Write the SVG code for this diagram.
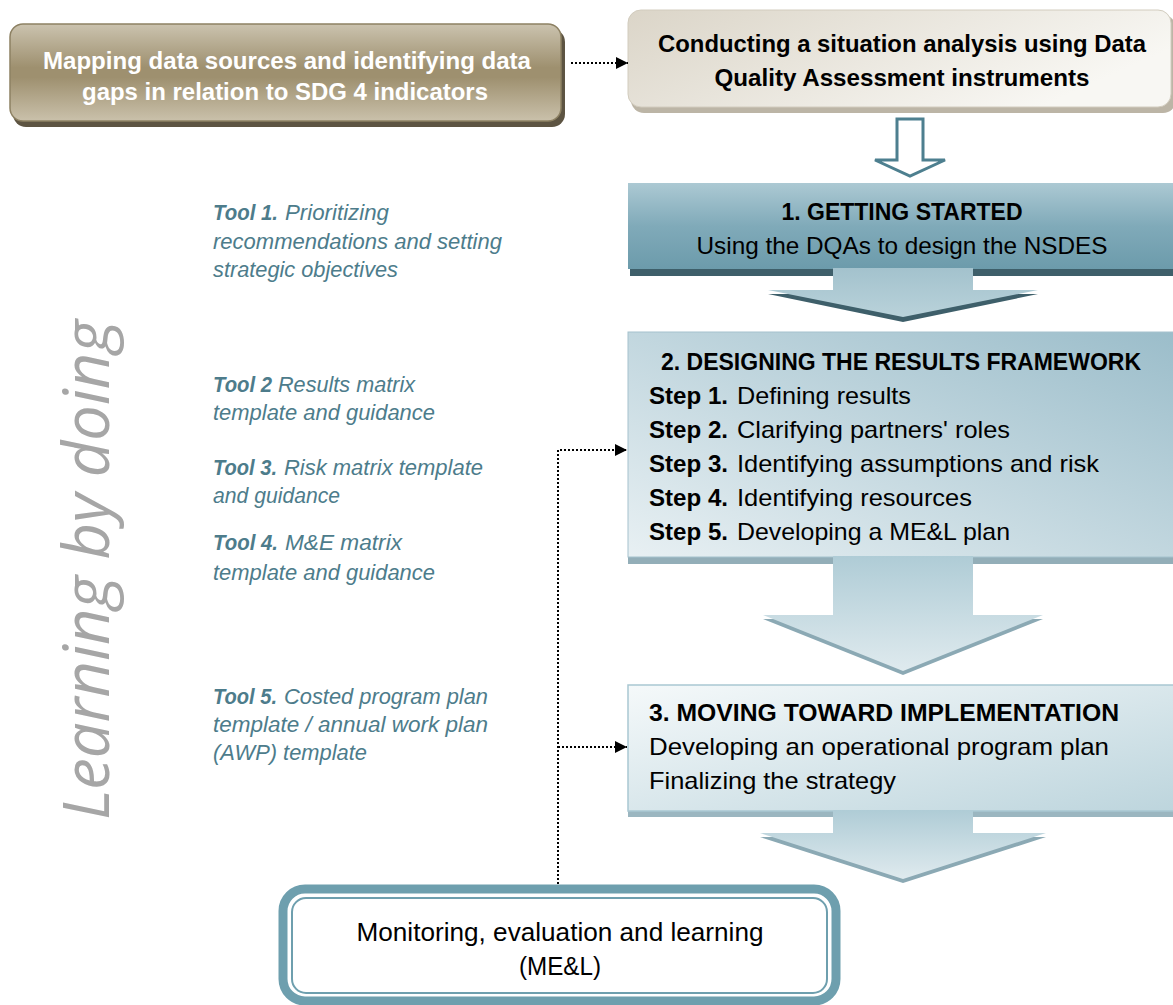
<svg xmlns="http://www.w3.org/2000/svg" width="1173" height="1005" viewBox="0 0 1173 1005">
<defs>
  <linearGradient id="tan" x1="0" y1="0" x2="0" y2="1">
    <stop offset="0" stop-color="#cbc3af"/>
    <stop offset="0.45" stop-color="#9e906f"/>
    <stop offset="0.55" stop-color="#9e906f"/>
    <stop offset="1" stop-color="#cac1ab"/>
  </linearGradient>
  <linearGradient id="beige" x1="0" y1="0" x2="1" y2="0.4">
    <stop offset="0" stop-color="#dbd5c8"/>
    <stop offset="1" stop-color="#f8f7f3"/>
  </linearGradient>
  <linearGradient id="teal1" x1="0" y1="0" x2="0" y2="1">
    <stop offset="0" stop-color="#acc9d3"/>
    <stop offset="0.5" stop-color="#80aab9"/>
    <stop offset="1" stop-color="#6c9bab"/>
  </linearGradient>
  <linearGradient id="teal2" x1="1" y1="0" x2="0" y2="1">
    <stop offset="0" stop-color="#9bbdca"/>
    <stop offset="1" stop-color="#e8f0f3"/>
  </linearGradient>
  <linearGradient id="teal3" x1="0" y1="0" x2="1" y2="1">
    <stop offset="0" stop-color="#f5f9fa"/>
    <stop offset="1" stop-color="#bdd5dd"/>
  </linearGradient>
  <linearGradient id="arrowA" x1="0" y1="0" x2="0" y2="1">
    <stop offset="0" stop-color="#a3c2cd"/>
    <stop offset="1" stop-color="#b9d2da"/>
  </linearGradient>
  <linearGradient id="arrowB" x1="0" y1="0" x2="0" y2="1">
    <stop offset="0" stop-color="#afccd6"/>
    <stop offset="1" stop-color="#dfeaee"/>
  </linearGradient>
  <marker id="ah" markerWidth="12" markerHeight="12" refX="12" refY="6" orient="auto" markerUnits="userSpaceOnUse">
    <path d="M0,0 L12,6 L0,12 Z" fill="#000"/>
  </marker>
  <style>
    .b { font-family: "Liberation Sans", Arial, sans-serif; font-weight: bold; font-size: 24px; }
    .r { font-family: "Liberation Sans", Arial, sans-serif; font-size: 24px; }
    .tb { font-family: "Liberation Sans", Arial, sans-serif; font-weight: bold; font-style: italic; font-size: 22px; fill: #4d7c8b; }
    .ti { font-family: "Liberation Sans", Arial, sans-serif; font-style: italic; font-size: 22px; fill: #4d7c8b; }
    .dot { fill: none; stroke: #000; stroke-width: 2; stroke-dasharray: 2 2; }
  </style>
</defs>

<rect width="1173" height="1005" fill="#ffffff"/>

<!-- Learning by doing -->
<text transform="translate(109,570) rotate(-90)" x="0" y="0" text-anchor="middle" textLength="500" lengthAdjust="spacingAndGlyphs" style="font-family:'Open Sans','Liberation Sans',sans-serif;font-style:italic;font-weight:400;font-size:64px;fill:#a6a6a6">Learning by doing</text>

<!-- Tools -->
<g id="tools">
  <text class="tb" x="213" y="220" textLength="65" lengthAdjust="spacingAndGlyphs">Tool 1.</text>
  <text class="ti" x="285" y="220" textLength="104" lengthAdjust="spacingAndGlyphs">Prioritizing</text>
  <text class="ti" x="213" y="249" textLength="289" lengthAdjust="spacingAndGlyphs">recommendations and setting</text>
  <text class="ti" x="213" y="277" textLength="185" lengthAdjust="spacingAndGlyphs">strategic objectives</text>

  <text class="tb" x="213" y="392" textLength="59" lengthAdjust="spacingAndGlyphs">Tool 2</text>
  <text class="ti" x="278" y="392" textLength="137" lengthAdjust="spacingAndGlyphs">Results matrix</text>
  <text class="ti" x="213" y="420" textLength="222" lengthAdjust="spacingAndGlyphs">template and guidance</text>

  <text class="tb" x="213" y="475" textLength="64" lengthAdjust="spacingAndGlyphs">Tool 3.</text>
  <text class="ti" x="284" y="475" textLength="199" lengthAdjust="spacingAndGlyphs">Risk matrix template</text>
  <text class="ti" x="213" y="503" textLength="127" lengthAdjust="spacingAndGlyphs">and guidance</text>

  <text class="tb" x="213" y="550" textLength="65" lengthAdjust="spacingAndGlyphs">Tool 4.</text>
  <text class="ti" x="285" y="550" textLength="117" lengthAdjust="spacingAndGlyphs">M&amp;E matrix</text>
  <text class="ti" x="213" y="580" textLength="222" lengthAdjust="spacingAndGlyphs">template and guidance</text>

  <text class="tb" x="213" y="704" textLength="64" lengthAdjust="spacingAndGlyphs">Tool 5.</text>
  <text class="ti" x="284" y="704" textLength="204" lengthAdjust="spacingAndGlyphs">Costed program plan</text>
  <text class="ti" x="213" y="732" textLength="275" lengthAdjust="spacingAndGlyphs">template / annual work plan</text>
  <text class="ti" x="213" y="760" textLength="154" lengthAdjust="spacingAndGlyphs">(AWP) template</text>
</g>

<!-- Node: mapping -->
<g id="node-mapping">
  <rect x="13" y="29" width="552" height="98" rx="13" fill="#5d5442"/>
  <rect x="10" y="24" width="551" height="97" rx="13" fill="url(#tan)" stroke="#8d8163" stroke-width="1.5"/>
  <text class="b" x="287" y="69" text-anchor="middle" fill="#ffffff" textLength="488" lengthAdjust="spacingAndGlyphs">Mapping data sources and identifying data</text>
  <text class="b" x="285" y="100" text-anchor="middle" fill="#ffffff" textLength="406" lengthAdjust="spacingAndGlyphs">gaps in relation to SDG 4 indicators</text>
</g>

<!-- Node: situation analysis -->
<g id="node-situation">
  <rect x="631" y="15" width="545" height="98" rx="13" fill="#bcb5a6"/>
  <rect x="628" y="10" width="543" height="97" rx="13" fill="url(#beige)" stroke="#d2ccbe" stroke-width="1"/>
  <text class="b" x="902" y="52" text-anchor="middle" fill="#000" textLength="488" lengthAdjust="spacingAndGlyphs">Conducting a situation analysis using Data</text>
  <text class="b" x="902" y="86" text-anchor="middle" fill="#000" textLength="375" lengthAdjust="spacingAndGlyphs">Quality Assessment instruments</text>
</g>

<!-- Hollow arrow -->
<g id="hollow-arrow">
  <path d="M897,119 H923 V160 H945 L910,176 L875,160 H897 Z" fill="#ffffff" stroke="#4d7f8f" stroke-width="3" stroke-linejoin="miter"/>
</g>

<!-- Node: getting started -->
<g id="node-step1">
  <rect x="630" y="190" width="545" height="86" fill="#3e5f6a"/>
  <rect x="628" y="183" width="545" height="86" fill="url(#teal1)"/>
  <polygon points="833,272 973,272 973,294 1038,294 903,322 768,294 833,294" fill="#3e5f6a"/>
  <polygon points="833,268 973,268 973,290 1038,290 903,317 768,290 833,290" fill="url(#arrowA)"/>
  <text class="b" x="902" y="220" text-anchor="middle" fill="#000" textLength="241" lengthAdjust="spacingAndGlyphs">1. GETTING STARTED</text>
  <text class="r" x="902" y="254" text-anchor="middle" fill="#000" textLength="411" lengthAdjust="spacingAndGlyphs">Using the DQAs to design the NSDES</text>
</g>

<!-- Node: designing results framework -->
<g id="node-step2">
  <rect x="628" y="339" width="547" height="225" fill="#93aeb8"/>
  <rect x="628" y="332" width="547" height="225" fill="url(#teal2)" stroke="#a5c2cd" stroke-width="1"/>
  <polygon points="833,561 973,561 973,619 1043,619 903,675 763,619 833,619" fill="#8ba9b4"/>
  <polygon points="833,556 973,556 973,615 1043,615 903,671 763,615 833,615" fill="url(#arrowB)"/>
  <text class="b" x="901" y="370" text-anchor="middle" fill="#000" textLength="480" lengthAdjust="spacingAndGlyphs">2. DESIGNING THE RESULTS FRAMEWORK</text>
  <text class="b" x="649" y="404" fill="#000" textLength="79" lengthAdjust="spacingAndGlyphs">Step 1.</text>
  <text class="r" x="737" y="404" fill="#000" textLength="174" lengthAdjust="spacingAndGlyphs">Defining results</text>
  <text class="b" x="649" y="438" fill="#000" textLength="79" lengthAdjust="spacingAndGlyphs">Step 2.</text>
  <text class="r" x="737" y="438" fill="#000" textLength="273" lengthAdjust="spacingAndGlyphs">Clarifying partners' roles</text>
  <text class="b" x="649" y="472" fill="#000" textLength="79" lengthAdjust="spacingAndGlyphs">Step 3.</text>
  <text class="r" x="737" y="472" fill="#000" textLength="362" lengthAdjust="spacingAndGlyphs">Identifying assumptions and risk</text>
  <text class="b" x="649" y="506" fill="#000" textLength="79" lengthAdjust="spacingAndGlyphs">Step 4.</text>
  <text class="r" x="737" y="506" fill="#000" textLength="235" lengthAdjust="spacingAndGlyphs">Identifying resources</text>
  <text class="b" x="649" y="540" fill="#000" textLength="79" lengthAdjust="spacingAndGlyphs">Step 5.</text>
  <text class="r" x="737" y="540" fill="#000" textLength="273" lengthAdjust="spacingAndGlyphs">Developing a ME&amp;L plan</text>
</g>

<!-- Node: moving toward implementation -->
<g id="node-step3">
  <rect x="628" y="691" width="547" height="126" fill="#9bb6c0"/>
  <rect x="628" y="685" width="547" height="126" fill="url(#teal3)" stroke="#a9c7d2" stroke-width="1.5"/>
  <polygon points="833,815 973,815 973,837 1046,837 903,883 760,837 833,837" fill="#8ba9b4"/>
  <polygon points="833,810 973,810 973,833 1046,833 903,879 760,833 833,833" fill="url(#arrowB)"/>
  <text class="b" x="649" y="721" fill="#000" textLength="470" lengthAdjust="spacingAndGlyphs">3. MOVING TOWARD IMPLEMENTATION</text>
  <text class="r" x="649" y="755" fill="#000" textLength="460" lengthAdjust="spacingAndGlyphs">Developing an operational program plan</text>
  <text class="r" x="649" y="789" fill="#000" textLength="247" lengthAdjust="spacingAndGlyphs">Finalizing the strategy</text>
</g>

<!-- Node: ME&L -->
<g id="node-mel">
  <rect x="283" y="889" width="553" height="112" rx="22" fill="#ffffff" stroke="#6e9fae" stroke-width="9"/>
  <rect x="292" y="898" width="535" height="95" rx="14" fill="#ffffff" stroke="#6e9fae" stroke-width="2"/>
  <text class="r" x="560" y="941" text-anchor="middle" fill="#000" style="font-size:26px" textLength="407" lengthAdjust="spacingAndGlyphs">Monitoring, evaluation and learning</text>
  <text class="r" x="560" y="975" text-anchor="middle" fill="#000" style="font-size:26px" textLength="82" lengthAdjust="spacingAndGlyphs">(ME&amp;L)</text>
</g>

<!-- Connectors -->
<g id="connectors">
  <path class="dot" d="M571,63 H628" marker-end="url(#ah)"/>
  <path class="dot" d="M558,884 V450 H627" marker-end="url(#ah)"/>
  <path class="dot" d="M558,747 H627" marker-end="url(#ah)"/>
</g>
</svg>
